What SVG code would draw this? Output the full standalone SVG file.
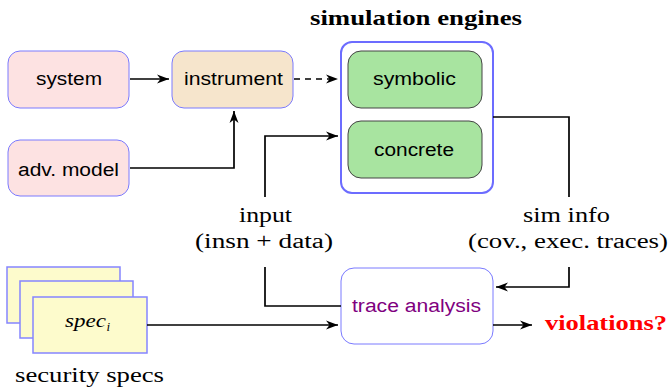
<svg xmlns="http://www.w3.org/2000/svg" width="669" height="392" viewBox="0 0 669 392">
<defs>
<marker id="arr" markerUnits="userSpaceOnUse" markerWidth="14" markerHeight="12" refX="12" refY="6" orient="auto">
<path d="M0,1.5 L12,6 L0,10.5 L3.5,6 z" fill="#000"/>
</marker>
<style>
.sans{font-family:"Liberation Sans",Arial,sans-serif;font-size:18px;fill:#000;text-anchor:middle}
.serif{font-family:"Liberation Serif","Times New Roman",serif;font-size:20px;fill:#000;text-anchor:middle}
.pink{fill:#fde2e2;stroke:#7a7aff;stroke-width:1}
.eng{fill:#a8e4a0;stroke:#444;stroke-width:1}
.spec{fill:#fdfbcc;stroke:#8585ff;stroke-width:1.5}
.conn{fill:none;stroke:#000;stroke-width:1.7}
</style>
</defs>
<rect width="669" height="392" fill="#fff"/>

<g id="title">
<text x="416" y="25" class="serif" style="font-weight:bold;font-size:21px" textLength="212" lengthAdjust="spacingAndGlyphs">simulation engines</text>
</g>

<g id="system">
<rect x="8" y="51" width="121" height="57" rx="12" class="pink"/>
<text x="69" y="85" class="sans" textLength="66" lengthAdjust="spacingAndGlyphs">system</text>
</g>

<g id="adv-model">
<rect x="8" y="140" width="121" height="56" rx="12" class="pink"/>
<text x="68.5" y="176" class="sans" textLength="101" lengthAdjust="spacingAndGlyphs">adv. model</text>
</g>

<g id="instrument">
<rect x="172" y="51" width="121" height="57" rx="12" fill="#f6e5cc" stroke="#7a7aff" stroke-width="1"/>
<text x="233.5" y="85" class="sans" textLength="99" lengthAdjust="spacingAndGlyphs">instrument</text>
</g>

<g id="simulation-engines">
<rect x="341" y="42" width="152" height="151" rx="11" fill="#fff" stroke="#6c6cff" stroke-width="2"/>
<g id="symbolic">
<rect x="348" y="51" width="134" height="57" rx="13" class="eng"/>
<text x="414.5" y="85" class="sans" textLength="83" lengthAdjust="spacingAndGlyphs">symbolic</text>
</g>
<g id="concrete">
<rect x="348" y="121" width="134" height="57" rx="13" class="eng"/>
<text x="414" y="156" class="sans" textLength="80" lengthAdjust="spacingAndGlyphs">concrete</text>
</g>
</g>

<g id="trace-analysis">
<rect x="341" y="268" width="152" height="76" rx="13" fill="#fff" stroke="#7a7aff" stroke-width="1"/>
<text x="416.5" y="312" class="sans" style="fill:#800080" textLength="129" lengthAdjust="spacingAndGlyphs">trace analysis</text>
</g>

<g id="security-specs">
<rect x="7" y="267" width="113" height="56" class="spec"/>
<rect x="20" y="281" width="113" height="57" class="spec"/>
<rect x="33" y="297" width="114" height="56" class="spec"/>
<text x="65" y="327" style="font-family:'Liberation Serif','Times New Roman',serif;font-style:italic;font-size:19px" textLength="41" lengthAdjust="spacingAndGlyphs">spec</text>
<text x="106.5" y="331" style="font-family:'Liberation Serif','Times New Roman',serif;font-style:italic;font-size:13px">i</text>
<text x="89.5" y="382" class="serif" textLength="149" lengthAdjust="spacingAndGlyphs">security specs</text>
</g>

<g id="violations">
<text x="606" y="330" class="serif" style="font-weight:bold;font-size:21px;fill:#ff0000" textLength="122" lengthAdjust="spacingAndGlyphs">violations?</text>
</g>

<g id="connectors">
<path d="M130,79 H169" class="conn" marker-end="url(#arr)"/>
<path d="M130,168 H234 V111" class="conn" marker-end="url(#arr)"/>
<path d="M294,79 H338" class="conn" stroke-dasharray="6,5" marker-end="url(#arr)"/>
<path d="M265,197 V136 H338" class="conn" marker-end="url(#arr)"/>
<path d="M265,267 V306 H341" class="conn"/>
<path d="M493,117 H569 V197" class="conn"/>
<path d="M569,267 V287 H496" class="conn" marker-end="url(#arr)"/>
<path d="M147,325 H338" class="conn" marker-end="url(#arr)"/>
<path d="M493,325 H532" class="conn" marker-end="url(#arr)"/>
<text x="265.5" y="222" class="serif" textLength="53" lengthAdjust="spacingAndGlyphs">input</text>
<text x="264" y="248" class="serif" textLength="138" lengthAdjust="spacingAndGlyphs">(insn + data)</text>
<text x="566.5" y="222" class="serif" textLength="87" lengthAdjust="spacingAndGlyphs">sim info</text>
<text x="568" y="248" class="serif" textLength="200" lengthAdjust="spacingAndGlyphs">(cov., exec. traces)</text>
</g>
</svg>
